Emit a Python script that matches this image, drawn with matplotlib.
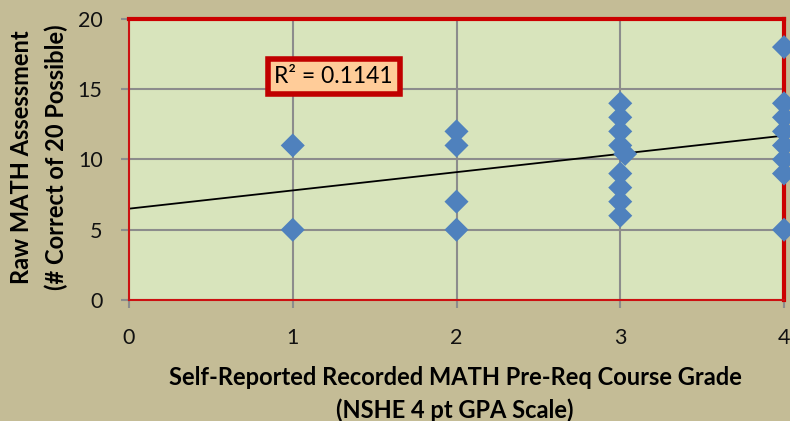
import matplotlib.pyplot as plt

# data
grade_x = [1, 1,
           2, 2, 2, 2,
           3, 3, 3, 3, 3.03, 3, 3, 3, 3,
           4, 4, 4, 4, 4, 4, 4, 4]
score_y = [11, 5,
           12, 11, 7, 5,
           14, 13, 12, 11, 10.4, 9, 8, 7, 6,
           18, 14, 13, 12, 11, 10, 9, 5]
trend_x = [0, 4]
trend_y = [6.5, 11.7]
x_ticks = [0, 1, 2, 3, 4]
y_ticks = [0, 5, 10, 15, 20]
r2_text = "R² = 0.1141"

plt.rcParams['font.family'] = ['Lato', 'DejaVu Sans']

fig = plt.figure(figsize=(7.9, 4.21), dpi=100, facecolor='#C4BC96')
ax = fig.add_axes([129 / 790, 121 / 421, 655 / 790, 281 / 421])
ax.set_facecolor('#D8E4BC')

ax.set_xlim(0, 4)
ax.set_ylim(0, 20)
ax.set_xticks(x_ticks)
ax.set_yticks(y_ticks)
ax.grid(True, color='#8C8C8C', linewidth=1.5, zorder=1)
ax.set_axisbelow(True)

# trendline + points
ax.plot(trend_x, trend_y, color='black', linewidth=1.3, zorder=2)
ax.scatter(grade_x, score_y, marker='D', s=150, color='#4F81BD',
           edgecolors='none', zorder=3, clip_on=False)

# red border round the plot area
for side in ['left', 'bottom']:
    ax.spines[side].set_color('#CC1111')
    ax.spines[side].set_linewidth(1.5)
for side in ['top', 'right']:
    ax.spines[side].set_color('#CC0000')
    ax.spines[side].set_linewidth(3)

ax.tick_params(axis='both', color='#8C8C8C', length=6, width=1.5,
               labelsize=15.5, labelcolor='#111111')
ax.tick_params(axis='x', pad=14)
ax.tick_params(axis='y', pad=13)

ax.text(1.25, 15.9, r2_text, fontsize=16.5, ha='center', va='center', zorder=4,
        bbox=dict(boxstyle='square,pad=0.3', facecolor='#FFCC99',
                  edgecolor='#C00000', linewidth=4))

fig.text(455 / 790, 1 - 394 / 421,
         "Self-Reported Recorded MATH Pre-Req Course Grade\n(NSHE 4 pt GPA Scale)",
         ha='center', va='center', fontsize=17, fontweight='bold',
         linespacing=1.45)
fig.text(39 / 790, 1 - 157 / 421,
         "Raw MATH Assessment\n(# Correct of 20 Possible)",
         ha='center', va='center', rotation=90, fontsize=17,
         fontweight='bold', linespacing=1.55)

fig.savefig("out.png", dpi=100, facecolor=fig.get_facecolor())
